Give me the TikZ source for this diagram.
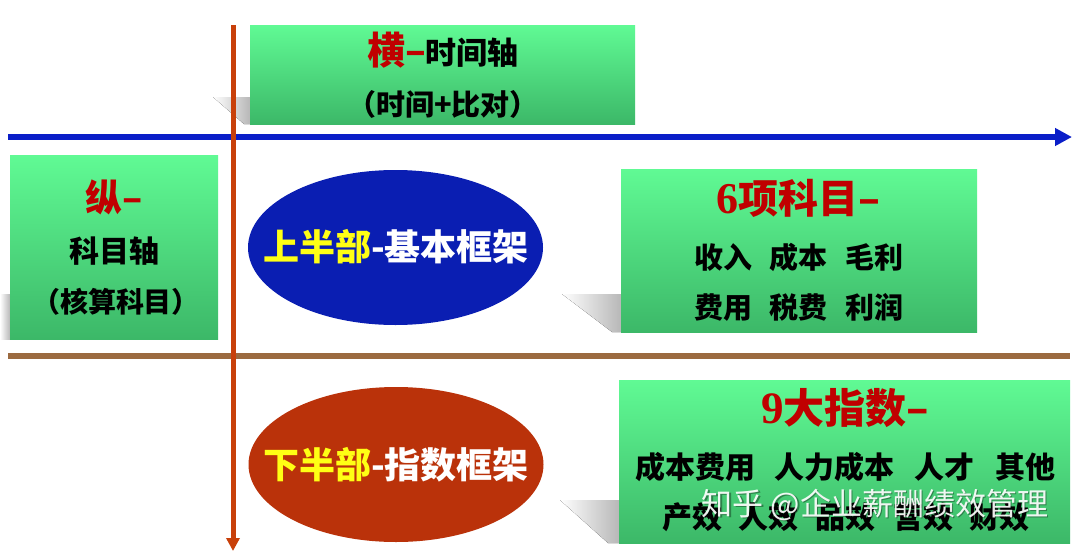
\documentclass[tikz,border=0pt]{standalone}
\usepackage{fontspec}
\newfontfamily\cjk{Noto Sans CJK SC}[BoldFont={Noto Sans CJK SC Black}]
\newfontfamily\cjkm{Noto Sans CJK SC}
\newfontfamily\serifnum{Liberation Serif}
\usetikzlibrary{arrows.meta,shapes.geometric}
\definecolor{gtop}{RGB}{96,250,148}
\definecolor{gbot}{RGB}{60,184,104}
\definecolor{tred}{RGB}{192,0,0}
\definecolor{tyel}{RGB}{255,255,20}
\definecolor{axblue}{RGB}{10,30,200}
\definecolor{axorange}{RGB}{200,64,10}
\definecolor{axbrown}{RGB}{155,106,64}
\definecolor{ellblue}{RGB}{10,30,178}
\definecolor{ellred}{RGB}{186,50,10}
\newcommand{\fs}[1]{\fontsize{#1}{#1}\selectfont}
\tikzset{
  gbox/.style={rectangle, inner sep=0pt, top color=gtop, bottom color=gbot, draw=none},
  oval/.style={ellipse, inner sep=0pt, minimum width=295pt, minimum height=155pt, draw=none},
  txt/.style={inner sep=0pt, anchor=center, text=black},
  shade/.style={left color=white, right color=black!28, draw=none},
}
\begin{document}
\begin{tikzpicture}[x=1pt,y=-1pt,font=\cjk\bfseries]
\useasboundingbox[fill=white] (0,0) rectangle (1080,552);

% shadows
\fill[shade] (213,97) -- (250,97) -- (250,124) -- (244,124) -- cycle;
\fill[shade] (0,294) -- (10,294) -- (10,339) -- (0,339) -- cycle;
\fill[shade] (562,294) -- (621,294) -- (621,332) -- (612,332) -- cycle;
\fill[shade] (560,500) -- (619,500) -- (619,543) -- (608,543) -- cycle;

% boxes
\node[gbox, minimum width=385pt, minimum height=99pt] (top) at (442.5,74.5) {};
\node[gbox, minimum width=208pt, minimum height=184pt] (left) at (114,247) {};
\node[gbox, minimum width=356pt, minimum height=163pt] (r1) at (799,250.5) {};
\node[gbox, minimum width=451pt, minimum height=163pt] (r2) at (844.5,461.5) {};

% ellipses
\node[oval, fill=ellblue] (up) at (395.5,247.5) {};
\node[oval, fill=ellred] (down) at (396,464.5) {};

% axes
\coordinate (bl) at (8,137);
\coordinate (br) at (1072,137);
\coordinate (wl) at (8,356);
\coordinate (wr) at (1070,356);
\coordinate (ot) at (233,25);
\coordinate (ob) at (233,551);
\draw[axblue, line width=5.5pt, -{Triangle[length=17pt,width=17pt]}] (bl) -- (br);
\draw[axbrown, line width=6pt] (wl) -- (wr);
\draw[axorange, line width=5pt, -{Triangle[length=13pt,width=13pt]}] (ot) -- (ob);

% top box texts
\node[txt] (t1) at (443,50) {{\fs{38}\color{tred}横–}{\fs{31}时间轴}};
\node[txt] (t2) at (443,104) {\fs{29}（时间+比对）};

% left box texts
\node[txt] (l1) at (114,197) {\fs{37}\color{tred}纵–};
\node[txt] (l2) at (114,251) {\fs{30}科目轴};
\node[txt] (l3) at (116,302) {\fs{28}（核算科目）};

% ellipse texts
\node[txt] (u1) at (396,247) {\fs{36}{\color{tyel}上半部}{\color{white}-基本框架}};
\node[txt] (d1) at (396,465) {\fs{36}{\color{tyel}下半部}{\color{white}-指数框架}};

% right box 1
\node[txt] (a1) at (798,198) {\color{tred}{\serifnum\fs{44}6}{\fs{40}项科目–}};
\node[txt] (a2) at (799,257) {\fs{29}收入\hspace{18pt}成本\hspace{18pt}毛利};
\node[txt] (a3) at (799,307) {\fs{29}费用\hspace{18pt}税费\hspace{18pt}利润};

% right box 2
\node[txt] (b1) at (845,408) {\color{tred}{\serifnum\fs{45}9}{\fs{41}大指数–}};
\node[txt] (b2) at (845,467) {\fs{30}成本费用\hspace{20pt}人力成本\hspace{20pt}人才\hspace{20pt}其他};
\node[txt] (b3) at (846,517) {\fs{30}产效\hspace{17pt}人效\hspace{17pt}品效\hspace{17pt}营效\hspace{17pt}财效};

% watermark
\node[txt, text=black, opacity=0.35] (wm0) at (876.5,506.5) {\cjkm\mdseries\fs{31}知乎 @企业薪酬绩效管理};
\node[txt, text=white, opacity=0.92] (wm) at (875,505) {\cjkm\mdseries\fs{31}知乎 @企业薪酬绩效管理};
\end{tikzpicture}
\end{document}
